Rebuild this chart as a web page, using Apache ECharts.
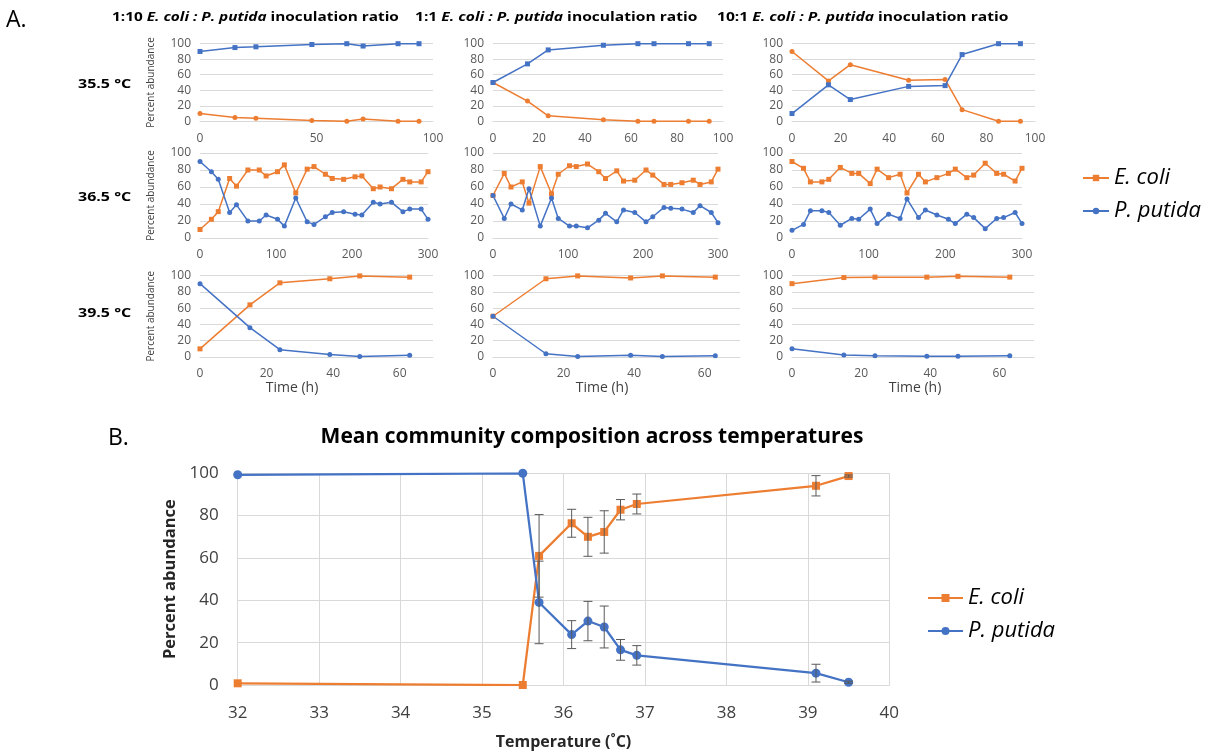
<!DOCTYPE html>
<html>
<head>
<meta charset="utf-8">
<script src="https://cdn.jsdelivr.net/npm/echarts@6/dist/echarts.min.js"></script>
<style>
  html, body { margin: 0; padding: 0; background: #fff; }
  #chart { width: 1211px; height: 753px; }
</style>
</head>
<body>
<div id="chart"></div>
<script>
const ORANGE = '#ED7D31';
const BLUE = '#4472C4';
const FONT = '"Open Sans", "Noto Sans", sans-serif';

// Sampling times (h)
const time355 = [0, 15, 24, 48, 63, 70, 85, 94];
const time365 = [0, 15, 24, 39, 48, 63, 78, 87, 102, 111, 126, 141, 150, 165, 174, 189, 204, 213, 228, 237, 252, 267, 276, 291, 300];
const time395 = [0, 15, 24, 39, 48, 63];

// 35.5 °C
const ecoli355_1to10 = [10, 5, 4, 1, 0, 3, 0, 0];
const putida355_1to10 = [90, 95, 96, 99, 100, 97, 100, 100];
const ecoli355_1to1 = [50, 26, 7, 2, 0, 0, 0, 0];
const putida355_1to1 = [50, 74, 92, 98, 100, 100, 100, 100];
const ecoli355_10to1 = [90, 52, 73, 53, 54, 15, 0, 0];
const putida355_10to1 = [10, 47, 28, 45, 46, 86, 100, 100];

// 36.5 °C
const ecoli365_1to10 = [10, 22, 31, 70, 61, 80, 80, 73, 78, 86, 53, 81, 84, 75, 70, 69, 72, 73, 58, 60, 58, 69, 66, 66, 78];
const putida365_1to10 = [90, 78, 69, 30, 39, 20, 20, 27, 22, 14, 47, 19, 16, 25, 30, 31, 28, 27, 42, 40, 42, 31, 34, 34, 22];
const ecoli365_1to1 = [50, 76, 60, 66, 41, 84, 52, 75, 85, 84, 87, 78, 70, 79, 67, 68, 80, 74, 63, 63, 65, 68, 63, 66, 81];
const putida365_1to1 = [50, 23, 40, 33, 58, 14, 47, 23, 14, 14, 12, 21, 29, 19, 33, 30, 19, 25, 36, 35, 34, 30, 38, 30, 18];
const ecoli365_10to1 = [90, 82, 66, 66, 69, 83, 76, 76, 64, 81, 71, 75, 53, 75, 66, 71, 76, 81, 71, 74, 88, 76, 75, 67, 82];
const putida365_10to1 = [9, 16, 32, 32, 30, 15, 23, 22, 34, 17, 28, 23, 46, 24, 33, 27, 22, 17, 28, 24, 11, 23, 24, 30, 17];

// 39.5 °C
const ecoli395_1to10 = [10, 64, 91, 96, 99.5, 98];
const putida395_1to10 = [90, 36, 9, 3, 0.5, 2];
const ecoli395_1to1 = [50, 96, 99.5, 97, 99.5, 98];
const putida395_1to1 = [50, 4, 0.5, 2, 0.5, 1.5];
const ecoli395_10to1 = [90, 97.5, 98, 98, 99, 98];
const putida395_10to1 = [10, 2.5, 1.5, 1, 1, 1.5];

// Mean composition across temperatures
const meanTemps = [32, 35.5, 35.7, 36.1, 36.3, 36.5, 36.7, 36.9, 39.1, 39.5];
const ecoliMean = [0.8, 0, 61, 76.4, 70, 72.3, 82.8, 85.5, 94.1, 98.7];
const putidaMean = [99.3, 100, 39, 23.8, 30.2, 27.4, 16.6, 14, 5.6, 1.3];
const ecoliSD = [null, null, 19.5, 6.6, 9.2, 10, 4.8, 4.7, 4.8, 0.5];
const putidaSD = [null, null, 19.5, 6.6, 9.3, 9.9, 4.9, 4.6, 4.2, 0.5];

// Axis ticks
const yTicks = [0, 20, 40, 60, 80, 100];
const tempTicks = [32, 33, 34, 35, 36, 37, 38, 39, 40];

const panels = [
  { row: 0, col: 0, t: time355, e: ecoli355_1to10, p: putida355_1to10, xMax: 100, xInt: 50 },
  { row: 0, col: 1, t: time355, e: ecoli355_1to1, p: putida355_1to1, xMax: 100, xInt: 20 },
  { row: 0, col: 2, t: time355, e: ecoli355_10to1, p: putida355_10to1, xMax: 100, xInt: 20 },
  { row: 1, col: 0, t: time365, e: ecoli365_1to10, p: putida365_1to10, xMax: 300, xInt: 100 },
  { row: 1, col: 1, t: time365, e: ecoli365_1to1, p: putida365_1to1, xMax: 300, xInt: 100 },
  { row: 1, col: 2, t: time365, e: ecoli365_10to1, p: putida365_10to1, xMax: 300, xInt: 100 },
  { row: 2, col: 0, t: time395, e: ecoli395_1to10, p: putida395_1to10, xMax: 70, xInt: 20 },
  { row: 2, col: 1, t: time395, e: ecoli395_1to1, p: putida395_1to1, xMax: 70, xInt: 20 },
  { row: 2, col: 2, t: time395, e: ecoli395_10to1, p: putida395_10to1, xMax: 70, xInt: 20 }
];

// Panel layout (pixels)
const rowBox = [{ top: 43.7, height: 77.6 }, { top: 153, height: 85 }, { top: 275.5, height: 81.5 }];
const colLeft = [200, 493, 792];
const colWidth = [[233, 230, 243], [228, 225, 230], [233, 247, 242]];

const grids = [], xAxes = [], yAxes = [], series = [];

// Large chart: grid index 0
grids.push({ left: 237.7, top: 473.3, width: 651.6, height: 211.7 });
xAxes.push({
  gridIndex: 0, type: 'value', min: tempTicks[0], max: tempTicks[tempTicks.length - 1], interval: 1,
  axisLine: { show: true, lineStyle: { color: '#d9d9d9', width: 1 } },
  axisTick: { show: false },
  splitLine: { show: true, lineStyle: { color: '#d9d9d9', width: 1 } },
  axisLabel: { fontSize: 17, color: '#404040', fontFamily: FONT, margin: 20 },
  name: 'Temperature (˚C)', nameLocation: 'middle', nameGap: 49,
  nameTextStyle: { fontSize: 16, fontWeight: 'bold', color: '#262626', fontFamily: FONT }
});
yAxes.push({
  gridIndex: 0, type: 'value', min: yTicks[0], max: yTicks[yTicks.length - 1], interval: 20,
  axisLine: { show: false }, axisTick: { show: false },
  splitLine: { show: true, lineStyle: { color: '#d9d9d9', width: 1 } },
  axisLabel: { fontSize: 17, color: '#404040', fontFamily: FONT, margin: 19 },
  name: 'Percent abundance', nameLocation: 'middle', nameGap: 56,
  nameTextStyle: { fontSize: 16.5, fontWeight: 'bold', color: '#262626', fontFamily: FONT }
});
series.push({
  name: 'E. coli', type: 'line', xAxisIndex: 0, yAxisIndex: 0,
  data: meanTemps.map((t, i) => [t, ecoliMean[i]]),
  symbol: 'rect', symbolSize: 8, lineStyle: { color: ORANGE, width: 2.25 },
  itemStyle: { color: ORANGE }, z: 2
});
series.push({
  name: 'P. putida', type: 'line', xAxisIndex: 0, yAxisIndex: 0,
  data: meanTemps.map((t, i) => [t, putidaMean[i]]),
  symbol: 'circle', symbolSize: 9, lineStyle: { color: BLUE, width: 2.25 },
  itemStyle: { color: BLUE }, z: 2
});

function errorSeries(means, sds) {
  const data = [];
  meanTemps.forEach((t, i) => {
    if (sds[i] != null) data.push([t, means[i] - sds[i], means[i] + sds[i]]);
  });
  return {
    type: 'custom', xAxisIndex: 0, yAxisIndex: 0, silent: true, z: 4,
    encode: { x: 0, y: [1, 2] },
    data,
    renderItem(params, api) {
      const x = api.value(0);
      const lo = api.coord([x, api.value(1)]);
      const hi = api.coord([x, api.value(2)]);
      const cap = 4.5;
      const style = { stroke: '#595959', lineWidth: 1 };
      return {
        type: 'group',
        children: [
          { type: 'line', shape: { x1: lo[0], y1: lo[1], x2: hi[0], y2: hi[1] }, style },
          { type: 'line', shape: { x1: lo[0] - cap, y1: lo[1], x2: lo[0] + cap, y2: lo[1] }, style },
          { type: 'line', shape: { x1: hi[0] - cap, y1: hi[1], x2: hi[0] + cap, y2: hi[1] }, style }
        ]
      };
    }
  };
}
series.push(errorSeries(ecoliMean, ecoliSD));
series.push(errorSeries(putidaMean, putidaSD));

// Small time-course panels
panels.forEach((pn, k) => {
  const gi = k + 1;
  grids.push({
    left: colLeft[pn.col], top: rowBox[pn.row].top,
    width: colWidth[pn.row][pn.col], height: rowBox[pn.row].height
  });
  xAxes.push({
    gridIndex: gi, type: 'value', min: 0, max: pn.xMax, interval: pn.xInt,
    axisLine: { show: true, lineStyle: { color: '#d9d9d9', width: 1 } },
    axisTick: { show: false }, splitLine: { show: false },
    axisLabel: { fontSize: 12, color: '#595959', fontFamily: FONT, margin: 11, showMaxLabel: pn.xMax !== 70 }
  });
  const yAx = {
    gridIndex: gi, type: 'value', min: yTicks[0], max: yTicks[yTicks.length - 1], interval: 20,
    axisLine: { show: false }, axisTick: { show: false },
    splitLine: { show: true, lineStyle: { color: '#d9d9d9', width: 1 } },
    axisLabel: { fontSize: 12, color: '#595959', fontFamily: FONT, margin: 9 }
  };
  if (pn.col === 0) {
    yAx.name = 'Percent abundance';
    yAx.nameLocation = 'middle';
    yAx.nameGap = 44;
    yAx.nameTextStyle = { fontSize: 10, color: '#404040', fontFamily: FONT };
  }
  yAxes.push(yAx);
  const firstRow = pn.row === 0;
  series.push({
    name: 'E. coli', type: 'line', xAxisIndex: gi, yAxisIndex: gi,
    data: pn.t.map((t, i) => [t, pn.e[i]]),
    symbol: firstRow ? 'circle' : 'rect', symbolSize: 5,
    lineStyle: { color: ORANGE, width: 1.5 }, itemStyle: { color: ORANGE }
  });
  series.push({
    name: 'P. putida', type: 'line', xAxisIndex: gi, yAxisIndex: gi,
    data: pn.t.map((t, i) => [t, pn.p[i]]),
    symbol: firstRow ? 'rect' : 'circle', symbolSize: 5,
    lineStyle: { color: BLUE, width: 1.5 }, itemStyle: { color: BLUE }
  });
});

function txt(x, y, text, opts, scaleX) {
  return {
    type: 'text', x, y, scaleX: scaleX || 1, silent: true,
    style: Object.assign({
      text, fill: '#000', fontFamily: FONT, fontSize: 12,
      align: 'left', verticalAlign: 'middle'
    }, opts || {})
  };
}

const titleRich = {
  b: { fontWeight: 'bold', fontSize: 12, fontFamily: FONT, fill: '#000' },
  i: { fontWeight: 'bold', fontStyle: 'italic', fontSize: 12, fontFamily: FONT, fill: '#000' }
};

const graphics = [
  txt(6, 20, 'A.', { fontSize: 23 }),
  txt(112, 18, '{b|1:10 }{i|E. coli : P. putida}{b| inoculation ratio}', { rich: titleRich }, 1.28),
  txt(415, 18, '{b|1:1 }{i|E. coli : P. putida}{b| inoculation ratio}', { rich: titleRich }, 1.3),
  txt(717, 18, '{b|10:1 }{i|E. coli : P. putida}{b| inoculation ratio}', { rich: titleRich }, 1.3),
  txt(78, 84, '35.5 °C', { fontWeight: 'bold', fontSize: 12.5 }, 1.28),
  txt(78, 197, '36.5 °C', { fontWeight: 'bold', fontSize: 12.5 }, 1.28),
  txt(78, 313, '39.5 °C', { fontWeight: 'bold', fontSize: 12.5 }, 1.28),
  txt(292, 388, 'Time (h)', { fontSize: 14, align: 'center', fill: '#404040' }),
  txt(602, 388, 'Time (h)', { fontSize: 14, align: 'center', fill: '#404040' }),
  txt(915, 388, 'Time (h)', { fontSize: 14, align: 'center', fill: '#404040' }),
  txt(108, 438, 'B.', { fontSize: 23 }),
  txt(592, 437, 'Mean community composition across temperatures', { fontSize: 21, fontWeight: 'bold', align: 'center' })
];

const legendText = { fontSize: 22, fontStyle: 'italic', color: '#000', fontFamily: FONT };

const option = {
  animation: false,
  backgroundColor: '#fff',
  grid: grids,
  xAxis: xAxes,
  yAxis: yAxes,
  series,
  graphic: graphics,
  legend: [
    {
      data: ['E. coli', 'P. putida'], orient: 'vertical', left: 1077, top: 162,
      itemWidth: 26, itemHeight: 8, itemGap: 11, selectedMode: false,
      lineStyle: { width: 2 }, textStyle: legendText
    },
    {
      data: ['E. coli', 'P. putida'], orient: 'vertical', left: 922, top: 582,
      itemWidth: 35, itemHeight: 10, itemGap: 11, selectedMode: false,
      textStyle: legendText
    }
  ]
};

const chart = echarts.init(document.getElementById('chart'), null, { renderer: 'canvas' });
chart.setOption(option);
</script>
</body>
</html>
